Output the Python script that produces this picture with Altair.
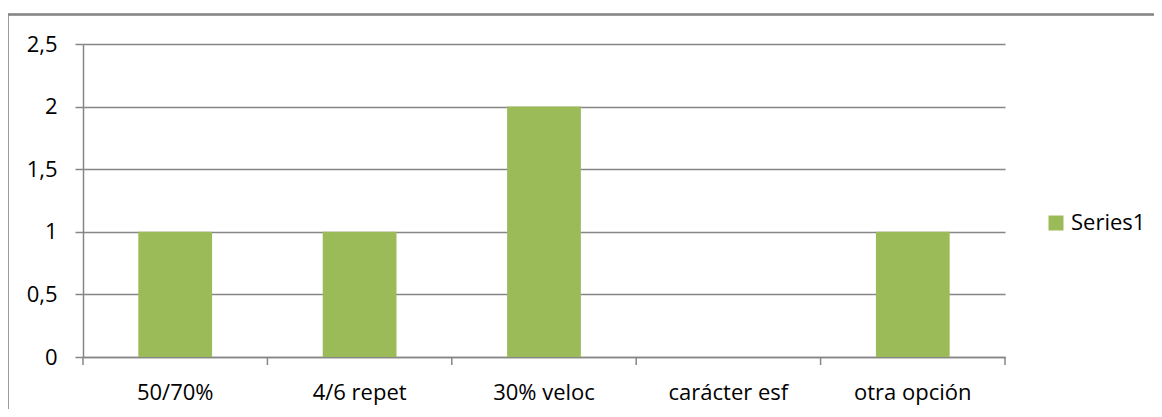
import altair as alt
import pandas as pd

categories = ["50/70%", "4/6 repet", "30% veloc", "carácter esf", "otra opción"]
values = [1, 1, 2, 0, 1]
series_name = "Series1"
y_ticks = [0, 0.5, 1, 1.5, 2, 2.5]
boundaries = [0, 1, 2, 3, 4, 5]

df = pd.DataFrame({"cat": categories, "value": values, "series": [series_name] * len(categories)})
bdf = pd.DataFrame({"b": boundaries})

GRAY = "#868686"
GREEN = "#9BBB59"
FONT = "Open Sans"
FS = 22

bars = alt.Chart(df).mark_bar(width=alt.RelativeBandSize(0.4)).encode(
    x=alt.X(
        "cat:N",
        sort=categories,
        scale=alt.Scale(paddingInner=0, paddingOuter=0),
        axis=alt.Axis(
            title=None, labelAngle=0, ticks=False, domain=True, domainColor=GRAY,
            domainWidth=1.5, labelPadding=25, labelFontSize=FS, labelFont=FONT,
            labelColor="black", grid=False,
        ),
    ),
    y=alt.Y(
        "value:Q",
        scale=alt.Scale(domain=[0, 2.5], nice=False),
        axis=alt.Axis(
            values=y_ticks, title=None, grid=True, gridColor=GRAY, gridWidth=1.5,
            tickColor=GRAY, tickSize=8, tickWidth=1.5, domainColor=GRAY, domainWidth=1.5,
            labelPadding=18, labelFontSize=FS, labelFont=FONT, labelColor="black",
            labelExpr="replace(format(datum.value, ''), '.', ',')",
        ),
    ),
    color=alt.Color(
        "series:N",
        scale=alt.Scale(range=[GREEN]),
        legend=alt.Legend(
            title=None, orient="none", legendX=962, legendY=168, padding=0,
            symbolType="square", symbolSize=225, symbolStrokeWidth=0,
            labelFontSize=FS, labelFont=FONT, labelColor="black", labelOffset=4,
        ),
    ),
)

xticks = alt.Chart(bdf).mark_rule(color=GRAY, strokeWidth=1.5).encode(
    x=alt.X("b:Q", scale=alt.Scale(domain=[0, 5], nice=False, zero=False), axis=None),
    y=alt.value(313),
    y2=alt.value(321),
)

border = alt.Chart(bdf).mark_rect(filled=False, stroke=GRAY, strokeWidth=1.5).encode(
    x=alt.value(-75.5),
    x2=alt.value(1200),
    y=alt.value(-29.5),
    y2=alt.value(500),
)

chart = (
    alt.layer(border, bars, xticks)
    .resolve_scale(x="independent")
    .properties(
        width=922,
        height=313,
        autosize=alt.AutoSizeParams(type="none"),
        padding={"left": 75, "top": 36, "right": 149, "bottom": 52},
    )
    .configure_view(strokeWidth=0)
)

chart.save("out.html", embed_options={"renderer": "svg", "actions": False})
